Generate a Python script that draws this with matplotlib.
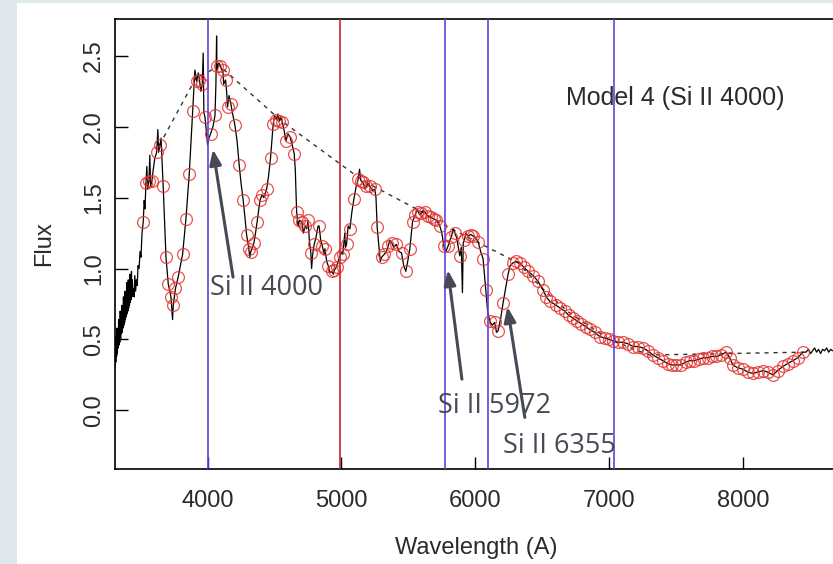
import matplotlib.pyplot as plt
from matplotlib.patches import Rectangle

# observed spectrum (left part, noisy blue end up to the Si II 6355 trough)
obs_wl = [3308, 3311, 3314, 3317, 3320, 3323, 3326, 3329, 3332, 3335, 3338, 3341, 3344, 3347,
          3350, 3353, 3356, 3359, 3362, 3365, 3368, 3371, 3374, 3377, 3380, 3383, 3386, 3389,
          3392, 3395, 3398, 3401, 3404, 3407, 3410, 3413, 3416, 3419, 3422, 3425, 3428, 3431,
          3434, 3437, 3440, 3444, 3450, 3456, 3462, 3468,
          3474, 3480, 3488, 3495, 3502, 3510, 3519, 3526, 3532, 3539, 3546, 3552, 3562, 3568,
          3574, 3584, 3594, 3606, 3619, 3628, 3634, 3644, 3652, 3668, 3689, 3706, 3726, 3738,
          3743, 3760, 3780, 3813, 3838, 3863, 3888, 3905, 3918, 3930, 3939, 3950, 3960, 3967,
          3972, 3980, 3992, 4000, 4010, 4022, 4040, 4055, 4062, 4067, 4070, 4073, 4085, 4096,
          4105, 4114, 4120, 4134, 4142, 4149, 4160, 4174, 4185, 4204, 4220, 4236, 4250, 4266,
          4280, 4291, 4308, 4315, 4323, 4335, 4346, 4358, 4370, 4391, 4406, 4420, 4441, 4455,
          4470, 4490, 4500, 4514, 4525, 4536, 4548, 4559, 4570, 4585, 4600, 4615, 4630, 4647,
          4655, 4665, 4676, 4686, 4704, 4715, 4730, 4740, 4751, 4760, 4771, 4777, 4785, 4796,
          4810, 4825, 4833, 4845, 4857, 4870, 4876, 4890, 4901, 4915, 4926, 4940, 4947, 4963,
          4975, 4988, 5000, 5010, 5025, 5030, 5038, 5050, 5063, 5078, 5093, 5110, 5125, 5135,
          5145, 5162, 5175, 5186, 5200, 5212, 5230, 5249, 5258, 5267, 5280, 5290, 5300, 5320,
          5335, 5349, 5362, 5376, 5390, 5411, 5430, 5449, 5465, 5481, 5495, 5511, 5531, 5552,
          5565, 5573, 5585, 5597, 5610, 5623, 5645, 5668, 5690, 5710, 5735, 5750, 5765, 5780,
          5797, 5810, 5821, 5835, 5847, 5860, 5884, 5895, 5904, 5910, 5918, 5930, 5946, 5966,
          5983, 6000, 6021, 6040, 6058, 6078, 6092, 6108, 6125, 6145, 6158, 6170, 6190, 6208,
          6225, 6245, 6260, 6282]
obs_flux = [0.30, 0.52, 0.34, 0.50, 0.38, 0.58, 0.40, 0.56, 0.44, 0.64, 0.46, 0.62, 0.48, 0.70,
            0.50, 0.66, 0.54, 0.74, 0.55, 0.70, 0.58, 0.80, 0.60, 0.74, 0.62, 0.84, 0.64, 0.78,
            0.66, 0.90, 0.68, 0.82, 0.70, 0.92, 0.72, 0.86, 0.74, 0.96, 0.76, 0.88, 0.78, 0.98,
            0.80, 0.92, 0.82, 0.86, 0.80, 0.95, 0.84, 0.92,
            0.88, 1.02, 1.00, 1.12, 1.08, 1.25, 1.33, 1.48, 1.42, 1.60, 1.72, 1.56, 1.62, 1.80,
            1.58, 1.62, 1.70, 1.78, 1.82, 1.98, 1.82, 1.87, 1.92, 1.58, 1.08, 0.89, 0.80, 0.64,
            0.74, 0.86, 0.94, 1.10, 1.35, 1.67, 2.11, 2.40, 2.32, 2.38, 2.33, 2.25, 2.30, 2.52,
            2.10, 2.07, 1.95, 1.87, 1.92, 1.95, 2.00, 2.08, 2.30, 2.64, 2.40, 2.43, 2.45, 2.43,
            2.40, 2.40, 2.30, 2.33, 2.25, 2.14, 2.22, 2.16, 2.10, 2.01, 1.90, 1.73, 1.60, 1.48,
            1.35, 1.24, 1.14, 1.08, 1.12, 1.15, 1.18, 1.25, 1.33, 1.48, 1.52, 1.50, 1.56, 1.65,
            1.78, 2.02, 2.08, 2.05, 2.09, 2.04, 2.07, 2.03, 1.98, 1.90, 1.95, 1.93, 1.88, 1.81,
            1.70, 1.40, 1.30, 1.34, 1.33, 1.25, 1.30, 1.28, 1.34, 1.20, 1.11, 1.00, 1.10, 1.17,
            1.22, 1.30, 1.30, 1.20, 1.16, 1.10, 1.14, 1.05, 1.02, 0.97, 0.98, 0.96, 0.99, 1.01,
            1.05, 1.08, 1.12, 1.10, 1.25, 1.15, 1.17, 1.30, 1.28, 1.40, 1.49, 1.58, 1.63, 1.70,
            1.62, 1.61, 1.56, 1.58, 1.60, 1.58, 1.55, 1.56, 1.50, 1.29, 1.15, 1.05, 1.08, 1.10,
            1.12, 1.16, 1.20, 1.18, 1.15, 1.17, 1.12, 1.11, 1.02, 0.98, 1.05, 1.14, 1.33, 1.38,
            1.42, 1.40, 1.38, 1.39, 1.41, 1.40, 1.37, 1.36, 1.35, 1.34, 1.30, 1.25, 1.16, 1.12,
            1.16, 1.20, 1.22, 1.28, 1.25, 1.22, 1.09, 1.15, 0.83, 1.18, 1.20, 1.25, 1.23, 1.24,
            1.23, 1.22, 1.19, 1.12, 1.07, 0.85, 0.70, 0.63, 0.60, 0.62, 0.55, 0.56, 0.65, 0.76,
            0.85, 0.96, 1.02, 1.04]

# red end of the observed spectrum, past the last model point
tail_wl = [8470, 8490, 8505, 8520, 8535, 8550, 8565, 8580, 8595, 8610, 8625, 8640, 8655, 8670,
           8700]
tail_flux = [0.41, 0.43, 0.40, 0.42, 0.44, 0.41, 0.43, 0.40, 0.43, 0.42, 0.44, 0.41, 0.43, 0.42,
             0.42]

# synthetic model (Model 4) points
model_wl = [3519, 3539, 3562, 3584, 3619, 3644, 3668, 3689, 3706, 3726, 3743, 3760, 3780, 3813,
            3838, 3863, 3888, 3918, 3939, 3960, 3980, 4022, 4055, 4073, 4096, 4114, 4134, 4149,
            4174, 4204, 4236, 4266, 4291, 4308, 4323, 4346, 4370, 4391, 4406, 4441, 4470, 4490,
            4514, 4536, 4559, 4585, 4615, 4647, 4665, 4686, 4704, 4730, 4751, 4771, 4796, 4833,
            4857, 4876, 4901, 4926, 4947, 4963, 4988, 5010, 5038, 5063, 5093, 5125, 5145, 5162,
            5186, 5212, 5249, 5267, 5300, 5320, 5349, 5376, 5411, 5449, 5481, 5511, 5531, 5552,
            5573, 5597, 5623, 5645, 5668, 5690, 5710, 5735, 5765, 5797, 5821, 5847, 5884, 5918,
            5946, 5966, 5983, 6021, 6058, 6078, 6108, 6145, 6170, 6208, 6245, 6282, 6306, 6332,
            6362, 6394, 6432, 6469, 6506, 6530, 6556, 6606, 6635, 6668, 6698, 6730, 6762, 6793,
            6825, 6855, 6892, 6930, 6967, 6997, 7029, 7064, 7104, 7139, 7179, 7214, 7253, 7288,
            7328, 7363, 7402, 7437, 7467, 7502, 7534, 7572, 7602, 7632, 7669, 7701, 7736, 7766,
            7801, 7833, 7876, 7900, 7925, 7960, 8000, 8035, 8075, 8110, 8149, 8184, 8224, 8259,
            8299, 8334, 8373, 8408, 8448]
model_flux = [1.33, 1.60, 1.62, 1.62, 1.82, 1.87, 1.58, 1.08, 0.89, 0.80, 0.74, 0.86, 0.94, 1.10,
              1.35, 1.67, 2.11, 2.32, 2.33, 2.30, 2.07, 1.95, 2.08, 2.43, 2.43, 2.40, 2.33, 2.14,
              2.16, 2.01, 1.73, 1.48, 1.24, 1.14, 1.12, 1.18, 1.33, 1.48, 1.52, 1.56, 1.78, 2.02,
              2.05, 2.04, 2.03, 1.90, 1.93, 1.81, 1.40, 1.34, 1.33, 1.30, 1.34, 1.11, 1.17, 1.30,
              1.16, 1.14, 1.02, 0.98, 0.99, 1.01, 1.08, 1.10, 1.17, 1.28, 1.49, 1.63, 1.62, 1.61,
              1.58, 1.58, 1.56, 1.29, 1.08, 1.10, 1.16, 1.18, 1.17, 1.11, 0.98, 1.14, 1.33, 1.38,
              1.40, 1.39, 1.40, 1.37, 1.36, 1.35, 1.34, 1.30, 1.16, 1.16, 1.22, 1.25, 1.09, 1.20,
              1.23, 1.24, 1.23, 1.19, 1.07, 0.85, 0.63, 0.62, 0.56, 0.76, 0.96, 1.04, 1.05, 1.04,
              1.01, 0.98, 0.95, 0.91, 0.85, 0.80, 0.77, 0.74, 0.72, 0.70, 0.67, 0.65, 0.63, 0.61,
              0.59, 0.57, 0.55, 0.52, 0.51, 0.50, 0.49, 0.48, 0.48, 0.47, 0.45, 0.45, 0.44, 0.42,
              0.39, 0.37, 0.35, 0.33, 0.32, 0.32, 0.32, 0.34, 0.35, 0.35, 0.36, 0.37, 0.37, 0.38,
              0.38, 0.39, 0.41, 0.37, 0.32, 0.30, 0.29, 0.27, 0.26, 0.27, 0.28, 0.27, 0.25, 0.28,
              0.31, 0.33, 0.35, 0.37, 0.41]

# pseudo-continuum
cont_wl = [3640, 3910, 4090, 4540, 5160, 5600, 5800, 6320, 6500, 6700, 7000, 7300, 8450]
cont_flux = [1.87, 2.34, 2.43, 2.05, 1.62, 1.40, 1.29, 1.04, 0.86, 0.69, 0.50, 0.39, 0.41]

# marker lines
blue_lines = [4000, 5772, 6093, 7037]
red_lines = [4988]

# annotations: label, text position, arrow tail, arrow tip
labels = ['Si II 4000', 'Si II 5972', 'Si II 6355']
label_pos = [(4020, 0.86), (5720, 0.03), (6210, -0.25)]
arrow_from = [(4190, 0.94), (5900, 0.22), (6370, -0.05)]
arrow_to = [(4040, 1.84), (5795, 0.99), (6240, 0.73)]

W, H = 833, 564
fig = plt.figure(figsize=(W / 100, H / 100), dpi=100)
fig.patch.set_facecolor('#dde7ec')
fig.patches.append(Rectangle((17 / W, 0), 1, 1 - 3 / H, transform=fig.transFigure,
                             facecolor='white', edgecolor='none', zorder=-5))

ax = fig.add_axes([115 / W, (H - 469) / H, (838 - 115) / W, 450 / H])
ax.set_facecolor('white')

# full observed spectrum in black
spec_wl = obs_wl + [w for w in model_wl if w > 6290] + tail_wl
spec_flux = obs_flux + [f for w, f in zip(model_wl, model_flux) if w > 6290] + tail_flux
ax.plot(spec_wl, spec_flux, color='black', lw=0.9, zorder=3)

ax.plot(cont_wl, cont_flux, color='#333333', lw=1.0, ls=(0, (3, 3.5)), zorder=2)

ax.plot(model_wl, model_flux, ls='none', marker='o', ms=8.5, mfc='none',
        mec='#e3342f', mew=0.9, alpha=0.85, zorder=4)

for w in blue_lines:
    ax.axvline(w, color='#6a3ee0', lw=1.2, zorder=5)
for w in red_lines:
    ax.axvline(w, color='#c8282a', lw=1.2, zorder=5)

ax.text(0.775, 0.824, 'Model 4 (Si II 4000)', transform=ax.transAxes, fontsize=18,
        family='Liberation Sans', color='#2a2a2a', ha='center', va='center', zorder=6)

for lab, p, a, b in zip(labels, label_pos, arrow_from, arrow_to):
    ax.annotate('', xy=b, xytext=a,
                arrowprops=dict(arrowstyle='-|>,head_length=0.9,head_width=0.35',
                                color='#454a55', lw=2.2, shrinkA=0, shrinkB=0), zorder=7)
    ax.text(p[0], p[1], lab, fontsize=19.5, family='Open Sans', color='#454a55',
            ha='left', va='center', zorder=8)

ax.set_xlim(3308, 8710)
ax.set_ylim(-0.414, 2.76)
ax.set_xticks([4000, 5000, 6000, 7000, 8000])
ax.set_yticks([0.0, 0.5, 1.0, 1.5, 2.0, 2.5])
ax.set_yticklabels(['0.0', '0.5', '1.0', '1.5', '2.0', '2.5'], rotation=90, va='center')
ax.tick_params(direction='in', length=9, width=1, labelsize=17)
ax.tick_params(axis='x', pad=15)
ax.tick_params(axis='y', pad=7)
for lab in ax.get_xticklabels() + ax.get_yticklabels():
    lab.set_family('Liberation Sans')
    lab.set_color('#2a2a2a')
ax.set_xlabel('Wavelength (A)', fontsize=17, family='Liberation Sans', color='#2a2a2a',
              labelpad=18)
ax.set_ylabel('Flux', fontsize=17, family='Liberation Sans', color='#2a2a2a', labelpad=20)
ax.spines['right'].set_visible(False)
for s in ['left', 'top', 'bottom']:
    ax.spines[s].set_linewidth(1.2)

plt.savefig('out.png', dpi=100, facecolor=fig.get_facecolor())
